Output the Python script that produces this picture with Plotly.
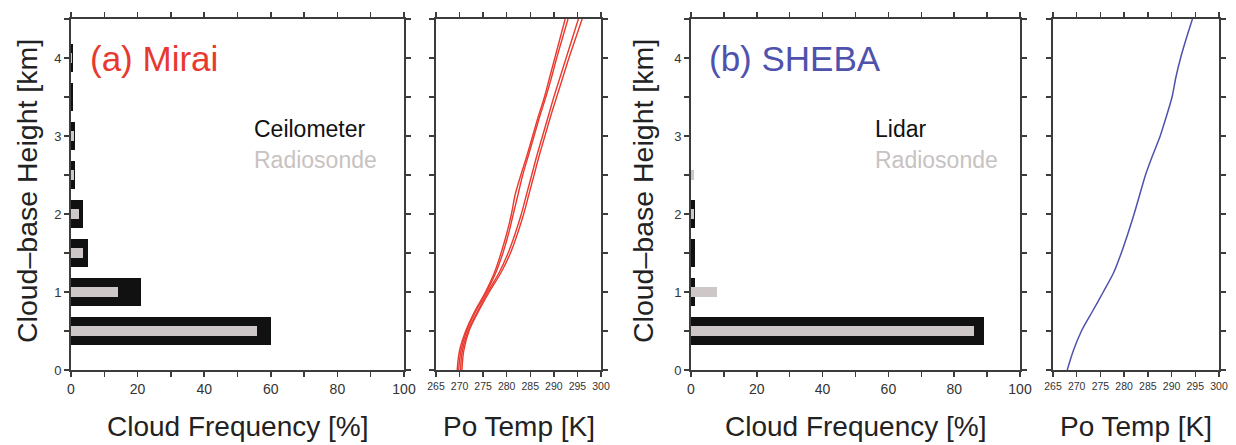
import plotly.graph_objects as go

# ---------------- data ----------------
bin_heights = [0.5, 1.0, 1.5, 2.0, 2.5, 3.0, 3.5, 4.0]          # km
mirai_ceilometer = [60, 21, 5, 3.5, 1.2, 1.2, 0.7, 0.7]          # %
mirai_radiosonde = [56, 14, 3.5, 2.5, 1.0, 0.8, 0.0, 0.3]        # %
sheba_lidar = [89, 1.2, 1.2, 1.2, 0.0, 0.0, 0.0, 0.0]            # %
sheba_radiosonde = [86, 8, 0.0, 1.0, 1.0, 0.0, 0.0, 0.0]         # %

profile_heights = [0, 0.25, 0.5, 0.75, 1.0, 1.25, 1.5, 1.75, 2.0, 2.25,
                   2.5, 2.75, 3.0, 3.25, 3.5, 3.75, 4.0, 4.25, 4.5]
mirai_theta_1 = [269.5, 270.0, 271.3, 273.2, 275.5, 277.4, 278.8, 280.0, 281.0, 281.8,
                 283.0, 284.3, 285.5, 286.7, 288.0, 289.1, 290.2, 291.3, 292.4]
mirai_theta_2 = [269.8, 270.3, 271.5, 273.4, 275.7, 277.7, 279.2, 280.4, 281.4, 282.4,
                 283.4, 284.6, 285.8, 287.0, 288.3, 289.5, 290.6, 291.8, 293.0]
mirai_theta_3 = [270.2, 270.6, 271.8, 273.8, 276.0, 278.4, 280.3, 281.8, 283.1, 284.2,
                 285.3, 286.4, 287.6, 288.8, 290.0, 291.3, 292.6, 293.9, 295.2]
mirai_theta_4 = [270.5, 270.9, 272.0, 274.0, 276.3, 278.8, 280.8, 282.3, 283.6, 284.7,
                 285.8, 286.9, 288.1, 289.3, 290.6, 291.9, 293.2, 294.6, 296.0]
sheba_theta = [268.0, 269.3, 271.0, 273.3, 275.6, 277.8, 279.4, 280.8, 282.1, 283.3,
               284.5, 286.0, 287.6, 288.9, 290.1, 290.9, 291.9, 293.1, 294.4]

freq_ticks = [0, 10, 20, 30, 40, 50, 60, 70, 80, 90, 100]
freq_labels = ["0", "", "20", "", "40", "", "60", "", "80", "", "100"]
height_ticks = [0, 0.5, 1, 1.5, 2, 2.5, 3, 3.5, 4, 4.5]
height_labels = ["0", "", "1", "", "2", "", "3", "", "4", ""]
temp_ticks = [265, 270, 275, 280, 285, 290, 295, 300]
temp_labels = ["265", "270", "275", "280", "285", "290", "295", "300"]

# ---------------- styling ----------------
FONT = "Liberation Sans, Arial, sans-serif"
W, H = 1236, 445
RED = "#e8392f"
BLUE = "#4f52ad"
BLACK_BAR = "#111111"
GRAY_BAR = "#cdc7c7"
AXCOL = "#3c3c3c"


def fx(px):
    """page x pixel -> paper fraction"""
    return px / W


def fy(py):
    """page y pixel (from top) -> paper fraction"""
    return (H - py) / H


ydom = [fy(370), fy(19)]

fig = go.Figure()

# Mirai bars
fig.add_trace(go.Bar(y=bin_heights, x=mirai_ceilometer, orientation="h", width=0.35,
                     marker=dict(color=BLACK_BAR, line=dict(width=0)),
                     xaxis="x", yaxis="y", showlegend=False))
fig.add_trace(go.Bar(y=bin_heights, x=mirai_radiosonde, orientation="h", width=0.13,
                     marker=dict(color=GRAY_BAR, line=dict(width=0)),
                     xaxis="x", yaxis="y", showlegend=False))
# Mirai profiles
for th in (mirai_theta_1, mirai_theta_2, mirai_theta_3, mirai_theta_4):
    fig.add_trace(go.Scatter(x=th, y=profile_heights, mode="lines",
                             line=dict(color=RED, width=1.4, shape="spline"),
                             xaxis="x2", yaxis="y2", showlegend=False))
# SHEBA bars
fig.add_trace(go.Bar(y=bin_heights, x=sheba_lidar, orientation="h", width=0.35,
                     marker=dict(color=BLACK_BAR, line=dict(width=0)),
                     xaxis="x3", yaxis="y3", showlegend=False))
fig.add_trace(go.Bar(y=bin_heights, x=sheba_radiosonde, orientation="h", width=0.13,
                     marker=dict(color=GRAY_BAR, line=dict(width=0)),
                     xaxis="x3", yaxis="y3", showlegend=False))
# SHEBA profile
fig.add_trace(go.Scatter(x=sheba_theta, y=profile_heights, mode="lines",
                         line=dict(color=BLUE, width=1.5, shape="spline", smoothing=0.8),
                         xaxis="x4", yaxis="y4", showlegend=False))

common_axis = dict(showline=True, linecolor=AXCOL, linewidth=2, mirror="ticks",
                   ticks="outside", ticklen=5, tickwidth=1.5, tickcolor=AXCOL,
                   showgrid=False, zeroline=False, fixedrange=True, automargin=False)

freq_axis = dict(common_axis, range=[0, 100], tickmode="array", tickvals=freq_ticks,
                 ticktext=freq_labels, tickfont=dict(family=FONT, size=14, color="#333"))
temp_axis = dict(common_axis, range=[265, 300], tickmode="array", tickvals=temp_ticks,
                 ticktext=temp_labels, tickfont=dict(family=FONT, size=10.5, color="#333"))
h_axis_lab = dict(common_axis, range=[0, 4.5], domain=ydom, tickmode="array",
                  tickvals=height_ticks, ticktext=height_labels,
                  tickfont=dict(family=FONT, size=13, color="#333"))
h_axis_nolab = dict(common_axis, range=[0, 4.5], domain=ydom, tickmode="array",
                    tickvals=height_ticks, showticklabels=False)

title_font = dict(family=FONT, size=28, color="#222")

fig.update_layout(
    width=W, height=H, margin=dict(l=0, r=0, t=0, b=0, autoexpand=False),
    paper_bgcolor="white", plot_bgcolor="white", barmode="overlay", bargap=0,
    hovermode=False,
    xaxis=dict(freq_axis, domain=[fx(71), fx(404)], anchor="y"),
    yaxis=dict(h_axis_lab, anchor="x"),
    xaxis2=dict(temp_axis, domain=[fx(436), fx(601)], anchor="y2"),
    yaxis2=dict(h_axis_nolab, anchor="x2"),
    xaxis3=dict(freq_axis, domain=[fx(691), fx(1020)], anchor="y3"),
    yaxis3=dict(h_axis_lab, anchor="x3"),
    xaxis4=dict(temp_axis, domain=[fx(1053), fx(1219)], anchor="y4"),
    yaxis4=dict(h_axis_nolab, anchor="x4"),
)

annotations = [
    # panel labels
    dict(text="(a) Mirai", x=5, y=4.0, xref="x", yref="y", xanchor="left", yanchor="middle",
         font=dict(family=FONT, size=35, color=RED), showarrow=False),
    dict(text="Ceilometer", x=54.5, y=3.09, xref="x", yref="y", xanchor="left", yanchor="middle",
         font=dict(family=FONT, size=23, color="#111"), showarrow=False),
    dict(text="Radiosonde", x=54.5, y=2.69, xref="x", yref="y", xanchor="left", yanchor="middle",
         font=dict(family=FONT, size=23, color="#c8c2c2"), showarrow=False),
    dict(text="(b) SHEBA", x=4.9, y=4.0, xref="x3", yref="y3", xanchor="left", yanchor="middle",
         font=dict(family=FONT, size=35, color=BLUE), showarrow=False),
    dict(text="Lidar", x=55.3, y=3.09, xref="x3", yref="y3", xanchor="left", yanchor="middle",
         font=dict(family=FONT, size=23, color="#111"), showarrow=False),
    dict(text="Radiosonde", x=55.3, y=2.69, xref="x3", yref="y3", xanchor="left", yanchor="middle",
         font=dict(family=FONT, size=23, color="#c8c2c2"), showarrow=False),
    # axis titles
    dict(text="Cloud Frequency [%]", x=fx((71 + 404) / 2), y=fy(426), xref="paper", yref="paper",
         xanchor="center", yanchor="middle", font=title_font, showarrow=False),
    dict(text="Po Temp [K]", x=fx((436 + 601) / 2), y=fy(426), xref="paper", yref="paper",
         xanchor="center", yanchor="middle", font=title_font, showarrow=False),
    dict(text="Cloud Frequency [%]", x=fx((691 + 1020) / 2), y=fy(426), xref="paper", yref="paper",
         xanchor="center", yanchor="middle", font=title_font, showarrow=False),
    dict(text="Po Temp [K]", x=fx((1053 + 1219) / 2), y=fy(426), xref="paper", yref="paper",
         xanchor="center", yanchor="middle", font=title_font, showarrow=False),
    dict(text="Cloud\u2013base Height [km]", x=fx(27), y=fy(191), xref="paper", yref="paper",
         xanchor="center", yanchor="middle", textangle=-90,
         font=dict(family=FONT, size=28.5, color="#222"), showarrow=False),
    dict(text="Cloud\u2013base Height [km]", x=fx(643), y=fy(191), xref="paper", yref="paper",
         xanchor="center", yanchor="middle", textangle=-90,
         font=dict(family=FONT, size=28.5, color="#222"), showarrow=False),
]
fig.update_layout(annotations=annotations)

# remove the default page margin so the 1236x445 figure fills the window exactly
fig.write_html("out.html",
               config={"displayModeBar": False, "staticPlot": True},
               post_script="document.body.style.margin='0';document.body.style.overflow='hidden';")
